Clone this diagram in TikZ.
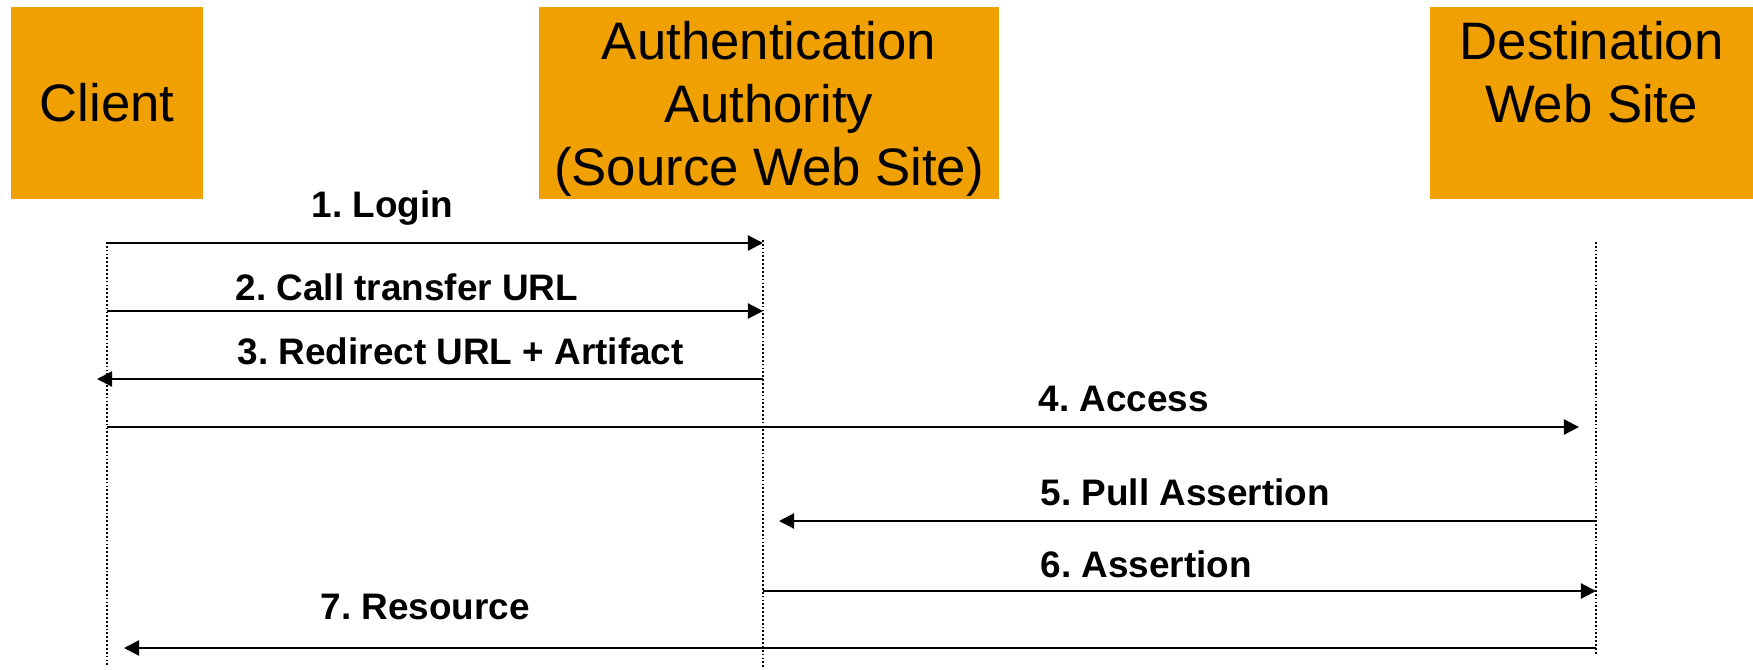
\documentclass[tikz,border=0pt]{standalone}
\usepackage{fontspec}
\setmainfont{Liberation Sans}
\usepackage{xcolor}
\usepackage{tikz}
\usetikzlibrary{arrows.meta}

\definecolor{actorfill}{RGB}{240,160,0}
\frenchspacing

\begin{document}
\begin{tikzpicture}[
    actor/.style={fill=actorfill, minimum height=1.92cm, align=center, inner sep=0pt,
                  font=\fontsize{15}{17.9}\selectfont},
    msg/.style={-{Triangle[length=4.3pt, width=4.3pt]}, line width=0.6pt},
    life/.style={line width=0.45pt, dash pattern=on 0.5pt off 0.6pt},
    msglabel/.style={anchor=base west, inner sep=0pt, font=\fontsize{10.5}{12}\selectfont\bfseries},
]
\useasboundingbox (0,0) rectangle (17.53,6.69);

% parties
\node[actor, minimum width=1.92cm] (client) at (1.07,5.66) {Client};
\node[actor, minimum width=4.60cm] (auth) at (7.69,5.66) {Authentication\\Authority\\\smash{(Source Web Site)}};
\node[actor, minimum width=3.23cm] (dest) at (15.915,5.66) {Destination\\Web Site\\\mbox{}};

% lifelines
\coordinate (cl-top) at (1.07,4.27);  \coordinate (cl-bot) at (1.07,0.02);
\coordinate (au-top) at (7.63,4.29);  \coordinate (au-bot) at (7.63,0);
\coordinate (de-top) at (15.96,4.27); \coordinate (de-bot) at (15.96,0.14);
\draw[life] (cl-top) -- (cl-bot);
\draw[life] (au-top) -- (au-bot);
\draw[life] (de-top) -- (de-bot);

% message rows on the lifelines
\foreach \i/\y in {1/4.26, 2/3.58, 3/2.90, 4/2.42, 5/1.48, 6/0.78, 7/0.21} {
    \coordinate (cl\i) at (1.07,\y);
    \coordinate (au\i) at (7.63,\y);
    \coordinate (de\i) at (15.96,\y);
}

% messages
\draw[msg] (cl1) -- (au1);
\draw[msg] (cl2) -- (au2);
\draw[msg, shorten >=-0.1cm] (au3) -- (cl3);
\draw[msg, shorten >=0.17cm] (cl4) -- (de4);
\draw[msg, shorten >=0.16cm] (de5) -- (au5);
\draw[msg] (au6) -- (de6);
\draw[msg, shorten >=0.17cm] (de7) -- (cl7);

% labels
\node[msglabel] (login)    at (3.11,4.52)  {1. Login};
\node[msglabel] (transfer) at (2.35,3.69)  {2. Call transfer URL};
\node[msglabel] (redirect) at (2.37,3.05)  {3. Redirect URL + Artifact};
\node[msglabel] (access)   at (10.38,2.58) {4. Access};
\node[msglabel] (pull)     at (10.40,1.64) {5. Pull Assertion};
\node[msglabel] (assert)   at (10.40,0.92) {6. Assertion};
\node[msglabel] (resource) at (3.20,0.50)  {7. Resource};

\end{tikzpicture}
\end{document}
